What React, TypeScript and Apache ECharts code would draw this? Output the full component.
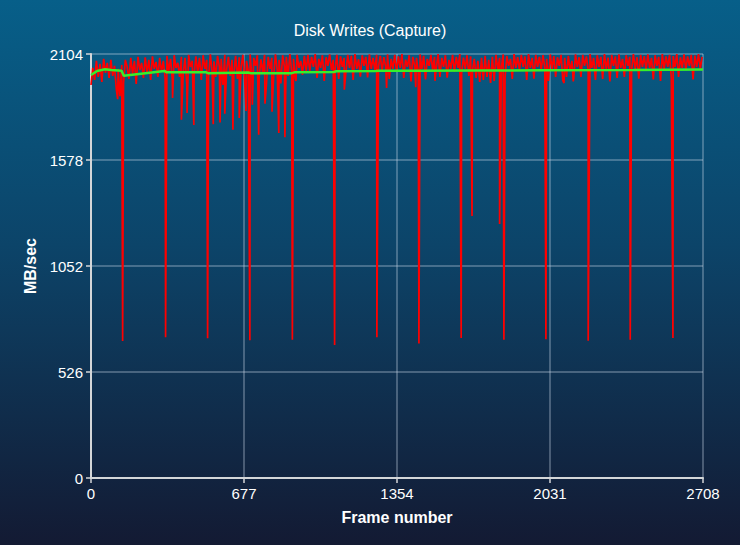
import React, { useEffect, useRef } from 'react';
import * as echarts from 'echarts';

const TITLE = 'Disk Writes (Capture)';
const X_NAME = 'Frame number';
const Y_NAME = 'MB/sec';
const X_MAX = 2708;
const X_INTERVAL = 677;
const Y_MAX = 2104;
const Y_INTERVAL = 526;

// frame spacing of the sampled write-rate values below
const SAMPLE_STEP = 8;

// MB/sec sampled every SAMPLE_STEP frames (frame 0, 8, 16, ...)
const writeRate = [
  1950, 2035, 1975, 2070, 1990, 2055, 1965, 2080, 2010, 2060, 1985, 2075, 1995, 2045, 1930, 2030, 1895, 2050, 1960, 2075,
  2040, 1980, 2085, 2005, 2070, 1955, 2090, 2025, 2060, 1985, 2088, 2010, 2075, 1975, 2092, 2030, 2065, 1990, 2085, 2015,
  2070, 1985, 2095, 2020, 2080, 1975, 2098, 2035, 2060, 1990, 2090, 2005, 2085, 1955, 2100, 2040, 2070, 1995, 2092, 2010,
  2085, 1975, 2098, 2030, 2075, 1985, 2102, 2015, 2068, 1990, 2095, 2040, 2080, 1950, 2100, 2025, 2090, 1995, 2075, 2010,
  2095, 1980, 2088, 2035, 2100, 1975, 2070, 2020, 2102, 1990, 2085, 2045, 2098, 1985, 2078, 2010, 2100, 1948, 2090, 2030,
  2085, 1990, 2102, 2025, 2075, 1958, 2098, 2040, 2090, 1995, 2104, 2015, 2080, 1985, 2100, 2035, 2070, 2000, 2095, 2020,
  2100, 2020, 2090, 2040, 2104, 1985, 2080, 2035, 2098, 1970, 2088, 2045, 2102, 2025, 2075, 2030, 2100, 1980, 2092, 2040,
  2085, 2015, 2100, 2035, 2095, 1975, 2104, 2030, 2078, 1992, 2098, 2045, 2090, 1988, 2102, 2030, 2085, 2025, 2100, 2040,
  2095, 2020, 2088, 2040, 2102, 1980, 2080, 2030, 2100, 2015, 2092, 2035, 2104, 1985, 2076, 2040, 2098, 1968, 2090, 2045,
  2085, 2020, 2102, 2030, 2095, 1978, 2080, 2045, 2100, 2025, 2090, 2035, 2104, 1990, 2085, 2040, 2098, 1986, 2075, 2030,
  2100, 2015, 2090, 2035, 2104, 2010, 2086, 2030, 2098, 1995, 2092, 2020, 2080, 1985, 2070, 1965, 2085, 1975, 2095, 1990,
  2075, 1960, 2090, 1970, 2100, 2025, 2085, 2040, 2102, 1985, 2094, 2045, 2080, 1980, 2104, 2035, 2088, 2025, 2100, 2040,
  2092, 1975, 2104, 2035, 2085, 1982, 2100, 2040, 2090, 2025, 2098, 2035, 2080, 1970, 2102, 2030, 2094, 1990, 2088, 2045,
  2100, 1972, 2085, 1990, 2095, 2020, 2070, 1985, 2102, 2040, 2088, 1990, 2100, 2045, 2092, 2025, 2104, 2035, 2085, 1975,
  2098, 2040, 2090, 1980, 2104, 2030, 2086, 1968, 2100, 2045, 2092, 1985, 2102, 2035, 2080, 1990, 2098, 2045, 2090, 2020,
  2104, 2030, 2088, 1982, 2100, 2040, 2094, 2025, 2102, 2035, 2085, 1978, 2098, 2045, 2090, 1970, 2104, 2030, 2092, 2040,
  2100, 1985, 2094, 2040, 2104, 1990, 2088, 2035, 2102, 2025, 2092, 2045, 2100, 1978, 2096, 2040, 2104, 2030, 2090,
];

// shallow drops [frame, MB/sec]
const dips: number[][] = [
  [118, 1880], [361, 1886], [400, 1778], [425, 1811], [455, 1752], [541, 1756], [571, 1764], [592, 1808],
  [628, 1728], [656, 1786], [686, 1821], [714, 1852], [742, 1703], [770, 1857], [801, 1818], [831, 1712],
  [858, 1691], [907, 1970], [1121, 1927], [1308, 1935], [1437, 1939], [1522, 1971], [1686, 1300], [1808, 1260],
  [2093, 1960], [2134, 1968],
];

// deep drops [frame, MB/sec]
const spikes: number[][] = [
  [140, 680], [330, 698], [516, 693], [703, 683], [891, 686], [1078, 660], [1265, 698],
  [1451, 668], [1638, 695], [1827, 686], [2013, 688], [2200, 681], [2386, 686], [2575, 695],
];

// running average (green)
const avgFrames = [0, 27, 62, 90, 135, 145, 250, 325, 335, 510, 520, 695, 710, 885, 900, 1075, 1085, 1260, 1275, 1450, 1700, 2000, 2400, 2708];
const avgValues = [2000, 2020, 2028, 2025, 2021, 1996, 2010, 2020, 2013, 2013, 2008, 2012, 2008, 2008, 2013, 2015, 2018, 2020, 2021, 2021, 2022, 2023, 2025, 2027];

const FONT = 'Liberation Sans, Arial, Helvetica, sans-serif';

export default function App() {
  const ref = useRef<HTMLDivElement>(null);
  useEffect(() => {
    if (!ref.current) return;
    const chart = echarts.init(ref.current, null, { renderer: 'svg' });
    const pts = writeRate
      .map((v, i) => [i * SAMPLE_STEP, v])
      .concat(dips, spikes)
      .sort((a, b) => a[0] - b[0]);
    const avg = avgFrames.map((f, i) => [f, avgValues[i]]);
    const axisCol = '#d4d6d8';
    const gridCol = 'rgba(200,215,230,0.42)';
    const fmt = (v: number) => String(v);
    chart.setOption({
      animation: false,
      backgroundColor: 'transparent',
      title: {
        text: TITLE,
        left: 'center',
        top: 22,
        padding: 0,
        textStyle: { color: '#ffffff', fontSize: 16, fontWeight: 'normal', fontFamily: FONT },
      },
      grid: { left: 91, right: 37, top: 54, bottom: 67, containLabel: false },
      xAxis: {
        type: 'value',
        min: 0,
        max: X_MAX,
        interval: X_INTERVAL,
        name: X_NAME,
        nameLocation: 'middle',
        nameGap: 31,
        nameTextStyle: { color: '#ffffff', fontSize: 16, fontWeight: 'bold', fontFamily: FONT },
        axisLine: { show: true, lineStyle: { color: axisCol, width: 2 } },
        axisTick: { show: true, length: 5, lineStyle: { color: axisCol, width: 1.5 } },
        axisLabel: { color: '#ffffff', fontSize: 15, fontFamily: FONT, margin: 8, formatter: fmt },
        splitLine: { show: true, lineStyle: { color: gridCol, width: 1.5 } },
      },
      yAxis: {
        type: 'value',
        min: 0,
        max: Y_MAX,
        interval: Y_INTERVAL,
        name: Y_NAME,
        nameLocation: 'middle',
        nameGap: 42,
        nameRotate: 90,
        nameTextStyle: { color: '#ffffff', fontSize: 16, fontWeight: 'bold', fontFamily: FONT },
        axisLine: { show: true, lineStyle: { color: axisCol, width: 2 } },
        axisTick: { show: true, length: 5, lineStyle: { color: axisCol, width: 1.5 } },
        axisLabel: { color: '#ffffff', fontSize: 15, fontFamily: FONT, margin: 8, formatter: fmt },
        splitLine: { show: true, lineStyle: { color: gridCol, width: 1.5 } },
      },
      series: [
        {
          type: 'line',
          data: pts,
          symbol: 'none',
          showSymbol: false,
          lineStyle: { color: '#ff0000', width: 1.7 },
          z: 2,
        },
        {
          type: 'line',
          data: avg,
          symbol: 'none',
          showSymbol: false,
          lineStyle: { color: '#36f02a', width: 2.5 },
          z: 3,
        },
      ],
    });
    return () => chart.dispose();
  }, []);
  return (
    <div
      ref={ref}
      style={{
        position: 'absolute',
        left: 0,
        top: 0,
        width: 740,
        height: 545,
        background: 'linear-gradient(180deg, #075f89 0%, #0c4469 45%, #131a33 100%)',
      }}
    />
  );
}
